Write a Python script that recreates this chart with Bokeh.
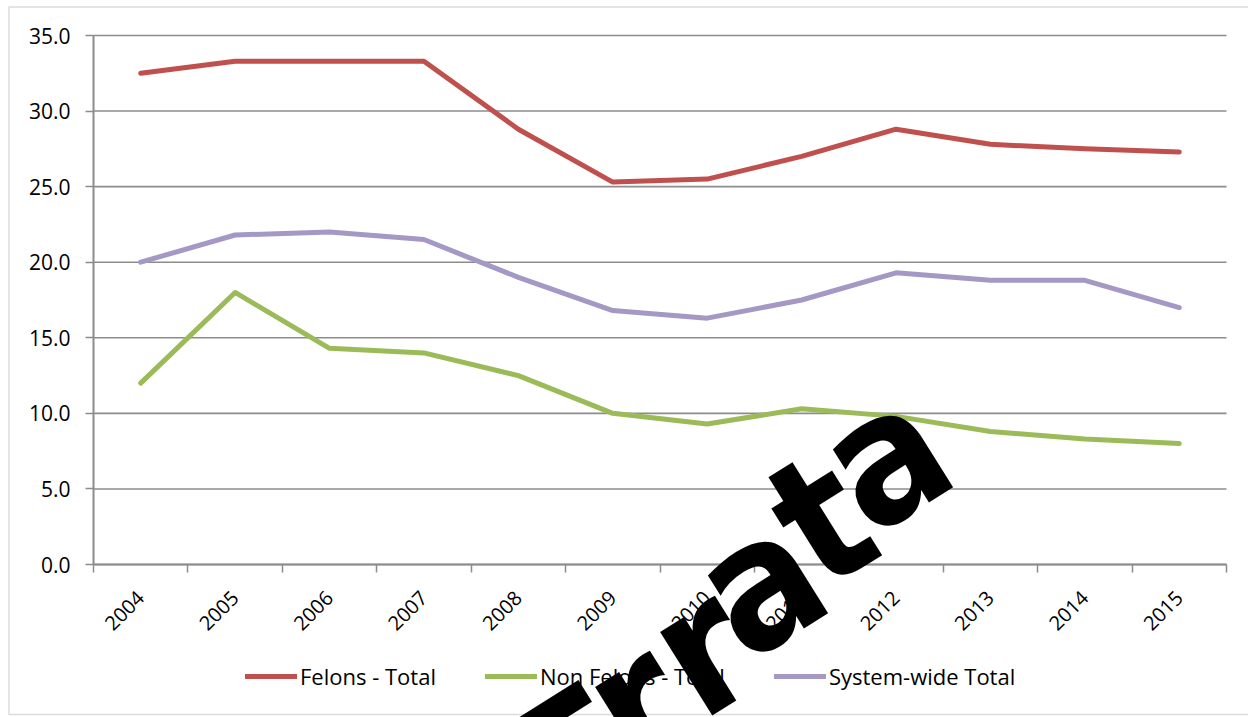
import math
from bokeh.plotting import figure
from bokeh.models import Range1d, FixedTicker, Legend, LegendItem, Label, BoxAnnotation, ColumnDataSource
from bokeh.embed import file_html
from bokeh.resources import INLINE

years = ["2004", "2005", "2006", "2007", "2008", "2009", "2010", "2011", "2012", "2013", "2014", "2015"]
felons = [32.5, 33.3, 33.3, 33.3, 28.8, 25.3, 25.5, 27.0, 28.8, 27.8, 27.5, 27.3]
non_felons = [12.0, 18.0, 14.3, 14.0, 12.5, 10.0, 9.3, 10.3, 9.8, 8.8, 8.3, 8.0]
system_wide = [20.0, 21.8, 22.0, 21.5, 19.0, 16.8, 16.3, 17.5, 19.3, 18.8, 18.8, 17.0]
series_names = ["Felons - Total", "Non Felons - Total", "System-wide Total"]
series_colors = ["#C0504D", "#9BBB59", "#A598C4"]
y_ticks = [0, 5, 10, 15, 20, 25, 30, 35]
watermark = "Errata"

W, H = 1248, 717
# plot area in pixels (left, right, top, bottom)
PL, PR, PT, PB = 93, 1226, 35, 564
n = len(years)
ymax = y_ticks[-1]
xs = (PR - PL) / n          # px per category
ys = (PB - PT) / ymax       # px per unit

def px_to_x(px):
    return (px - PL) / xs

def py_to_y(py):
    return (PB - py) / ys

xpos = [i + 0.5 for i in range(n)]
src = ColumnDataSource(dict(x=xpos, felons=felons, non_felons=non_felons, system_wide=system_wide))

p = figure(width=W, height=H, output_backend="svg", toolbar_location=None,
           x_range=Range1d(px_to_x(0), px_to_x(W)), y_range=Range1d(py_to_y(H), py_to_y(0)),
           min_border_left=0, min_border_right=0, min_border_top=0, min_border_bottom=0)
p.outline_line_color = None
p.background_fill_color = "white"
p.border_fill_color = "white"
p.title.visible = False

gray = "#8C8C8C"
font = "Open Sans"

# x axis (fixed at y = 0)
p.xaxis.fixed_location = 0
p.xaxis.bounds = (0, n)
p.xaxis.ticker = FixedTicker(ticks=xpos, minor_ticks=list(range(n + 1)))
p.xaxis.major_label_overrides = {xv: yr for xv, yr in zip(xpos, years)}
p.xaxis.major_tick_out = 0
p.xaxis.major_tick_in = 0
p.xaxis.major_tick_line_color = None
p.xaxis.minor_tick_out = 8
p.xaxis.minor_tick_in = 0
p.xaxis.minor_tick_line_color = gray
p.xaxis.minor_tick_line_width = 1.5
p.xaxis.axis_line_color = gray
p.xaxis.axis_line_width = 2
p.xaxis.major_label_orientation = math.pi / 4
p.xaxis.major_label_standoff = 22
p.xaxis.major_label_text_font = font
p.xaxis.major_label_text_font_size = "20px"
p.xaxis.major_label_text_color = "black"

# y axis (fixed at x = 0)
p.yaxis.fixed_location = 0
p.yaxis.bounds = (0, ymax)
p.yaxis.ticker = FixedTicker(ticks=y_ticks, minor_ticks=[])
p.yaxis.major_label_overrides = {t: f"{t:.1f}" for t in y_ticks}
p.yaxis.major_tick_out = 8
p.yaxis.major_tick_in = 0
p.yaxis.major_tick_line_color = gray
p.yaxis.major_tick_line_width = 1.5
p.yaxis.axis_line_color = gray
p.yaxis.axis_line_width = 2
p.yaxis.major_label_standoff = 15
p.yaxis.major_label_text_font = font
p.yaxis.major_label_text_font_size = "21px"
p.yaxis.major_label_text_color = "black"

p.xgrid.visible = False
p.ygrid.visible = False
# horizontal gridlines limited to the plot area
p.segment(x0=[0] * len(y_ticks), x1=[n] * len(y_ticks), y0=y_ticks, y1=y_ticks,
          line_color=gray, line_width=1.6)

renderers = []
for col, name, color in zip(["felons", "non_felons", "system_wide"], series_names, series_colors):
    r = p.line("x", col, source=src, line_color=color, line_width=5,
               line_cap="round", line_join="round")
    renderers.append(r)

legend = Legend(items=[LegendItem(label=nm, renderers=[r]) for nm, r in zip(series_names, renderers)],
                orientation="horizontal", location=(245, 26))
legend.border_line_color = None
legend.background_fill_alpha = 0
legend.padding = 0
legend.margin = 0
legend.spacing = 49
legend.glyph_width = 52
legend.glyph_height = 20
legend.label_standoff = 3
legend.label_height = 20
legend.label_text_font = font
legend.label_text_font_size = "22px"
legend.label_text_color = "black"
p.add_layout(legend)

# chart area border
box = BoxAnnotation(left=px_to_x(8.5), right=px_to_x(W + 20), bottom=py_to_y(714), top=py_to_y(6.5),
                    fill_alpha=0, line_color=gray, line_width=1.5)
p.add_layout(box)

# watermark, letter by letter (anchor points in page pixels)
wm_pos = [(579, 760), (636, 703), (701, 648), (759, 582), (821, 519), (884, 456)]
for ch, (wx, wy) in zip(watermark, wm_pos):
    p.add_layout(Label(x=px_to_x(wx), y=py_to_y(wy), text=ch, angle=32, angle_units="deg",
                       text_align="center", text_baseline="alphabetic",
                       text_font="DejaVu Sans Condensed, DejaVu Sans", text_font_style="bold",
                       text_font_size="180px", text_color="black"))

open("out.html", "w").write(file_html(p, INLINE))
